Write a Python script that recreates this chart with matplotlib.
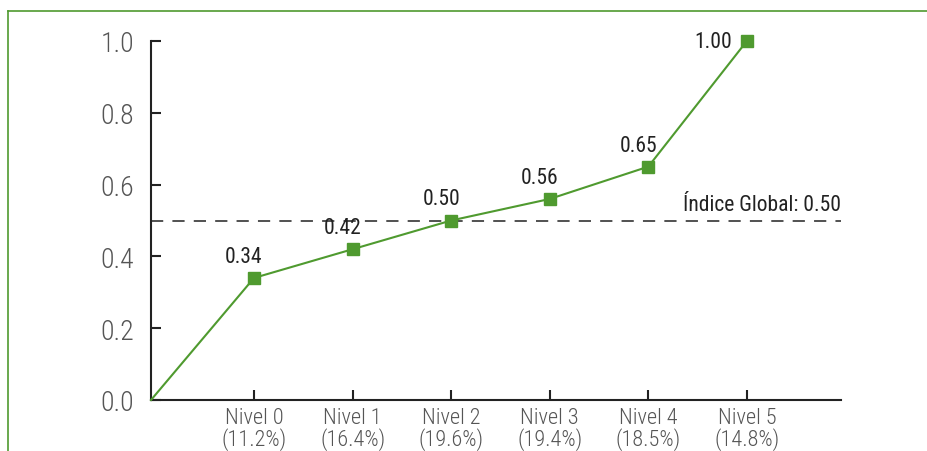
import matplotlib.pyplot as plt
from matplotlib.lines import Line2D
from matplotlib import font_manager

levels = ["Nivel 0", "Nivel 1", "Nivel 2", "Nivel 3", "Nivel 4", "Nivel 5"]
shares = ["11.2%", "16.4%", "19.6%", "19.4%", "18.5%", "14.8%"]
values = [0.34, 0.42, 0.50, 0.56, 0.65, 1.00]
global_index = 0.50

names = {f.name for f in font_manager.fontManager.ttflist}
font = "DejaVu Sans"
for cand in ["Roboto Condensed", "Archivo Narrow", "PT Sans Narrow", "Fira Sans Condensed",
             "Liberation Sans Narrow", "Open Sans Condensed"]:
    if cand in names:
        font = cand
        break
plt.rcParams["font.family"] = [font, "DejaVu Sans"]

green = "#4f9a2f"
fig = plt.figure(figsize=(9.27, 4.52), dpi=100)
ax = fig.add_axes([151 / 927, 1 - 401 / 452, 690 / 927, 359 / 452])

xs = [i + 1 for i in range(len(values))]
x0 = -0.045
ax.plot([x0] + xs, [0] + values, color=green, lw=1.5, zorder=3, clip_on=False)
ax.plot(xs, values, ls="none", marker="s", ms=9, color=green, zorder=4, clip_on=False)
for x, v in zip(xs, values):
    if v == 1.0:
        ax.annotate(f"{v:.2f}", (x, v), xytext=(-15, 0), textcoords="offset pixels",
                    ha="right", va="center", fontsize=15.5, color="#222222")
    else:
        ax.annotate(f"{v:.2f}", (x, v), xytext=(-10, 11), textcoords="offset pixels",
                    ha="center", va="bottom", fontsize=15.5, color="#222222")

ax.axhline(global_index, color="#222222", lw=1.1, dashes=(8, 6))
ax.text(6.95, global_index + 0.015, f"Índice Global: {global_index:.2f}", ha="right",
        va="bottom", fontsize=15.5, color="#222222")

ax.set_xlim(x0, x0 + 7)
ax.set_ylim(0, 1.0)
ax.set_xticks(xs)
ax.set_xticklabels([f"{l}\n({s})" for l, s in zip(levels, shares)], fontsize=16,
                   color="#555555", linespacing=0.95, fontweight="light")
ax.set_yticks([0, 0.2, 0.4, 0.6, 0.8, 1.0])
ax.set_yticklabels([f"{t:.1f}" for t in [0, 0.2, 0.4, 0.6, 0.8, 1.0]], fontsize=20,
                   color="#555555", fontweight="light")
ax.tick_params(direction="in", length=7, width=1.5, color="#222222")
ax.tick_params(axis="y", pad=12)
ax.tick_params(axis="x", pad=5)
for s in ["top", "right"]:
    ax.spines[s].set_visible(False)
for s in ["left", "bottom"]:
    ax.spines[s].set_linewidth(1.5)
    ax.spines[s].set_color("#222222")

# green frame
fig.add_artist(Line2D([8 / 927, 1], [1 - 12 / 452] * 2, transform=fig.transFigure, color=green, lw=1.2))
fig.add_artist(Line2D([8 / 927] * 2, [0, 1 - 12 / 452], transform=fig.transFigure, color=green, lw=1.2))

fig.savefig("out.png", dpi=100)
